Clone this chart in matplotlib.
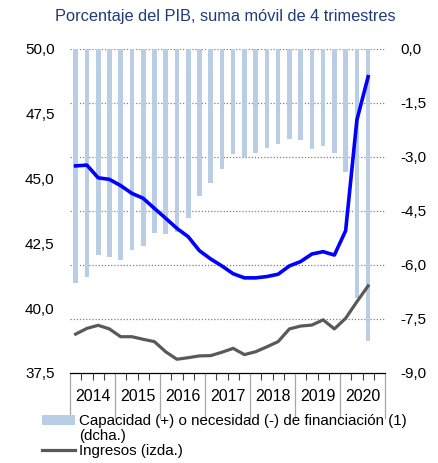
import matplotlib.pyplot as plt
from matplotlib.patches import Patch
from matplotlib.lines import Line2D

plt.rcParams['font.family'] = ['Liberation Sans', 'DejaVu Sans']

# Trimestres 2014T1 - 2020T3
years = ['2014', '2015', '2016', '2017', '2018', '2019', '2020']
capacidad = [-6.49, -6.32, -5.73, -5.79, -5.87, -5.57, -5.46, -5.12, -5.15, -5.08,
             -4.69, -4.08, -3.73, -3.34, -2.92, -2.99, -2.88, -2.74, -2.65, -2.49,
             -2.52, -2.77, -2.69, -2.88, -3.43, -6.93, -8.10]
gastos = [45.49, 45.52, 45.03, 44.97, 44.73, 44.43, 44.24, 43.85, 43.47, 43.08,
          42.76, 42.22, 41.90, 41.63, 41.33, 41.17, 41.17, 41.22, 41.31, 41.63,
          41.80, 42.09, 42.18, 42.05, 42.99, 47.26, 48.93]
ingresos = [39.00, 39.22, 39.34, 39.20, 38.90, 38.90, 38.80, 38.71, 38.32, 38.03,
            38.09, 38.16, 38.17, 38.30, 38.45, 38.21, 38.32, 38.51, 38.71, 39.20,
            39.31, 39.35, 39.55, 39.20, 39.61, 40.25, 40.86]
left_ticks = [37.5, 40.0, 42.5, 45.0, 47.5, 50.0]
right_ticks = [-9.0, -7.5, -6.0, -4.5, -3.0, -1.5, 0.0]

bar_color = '#B9CDE5'
x = list(range(len(capacidad)))

fig = plt.figure(figsize=(4.39, 4.63), dpi=100)
ax_r = fig.add_axes([0.1595, 0.1944, 0.7175, 0.6998])
ax = ax_r.twinx()
ax.set_zorder(ax_r.get_zorder() + 1)
ax.patch.set_visible(False)

# barras (eje derecho)
for v in right_ticks[1:]:
    ax_r.axhline(v, color='#808080', linestyle=(0, (1, 1.5)), linewidth=0.9, zorder=0)
ax_r.bar(x, capacidad, width=0.42, color=bar_color, zorder=2)
ax_r.set_ylim(-9, 0)
ax_r.set_yticks(right_ticks)
ax_r.set_yticklabels([f'{v:.1f}'.replace('.', ',') for v in right_ticks])
ax_r.yaxis.tick_right()

# lineas (eje izquierdo)
ax.plot(x, gastos, color='#0000FF', linewidth=2.6, solid_joinstyle='round')
ax.plot(x, ingresos, color='#595959', linewidth=2.3, solid_joinstyle='round')
ax.set_ylim(37.5, 50)
ax.set_yticks(left_ticks)
ax.set_yticklabels([f'{v:.1f}'.replace('.', ',') for v in left_ticks])
ax.yaxis.tick_left()

for a in (ax, ax_r):
    for s in ('top', 'left', 'right'):
        a.spines[s].set_visible(False)
    a.tick_params(axis='y', length=0, labelsize=11, pad=11)
ax.spines['bottom'].set_visible(False)
ax_r.spines['bottom'].set_color('#000000')
ax_r.spines['bottom'].set_linewidth(0.9)

ax_r.set_xlim(-0.5, 27.5)
ax.set_xlim(-0.5, 27.5)
ax.tick_params(axis='x', which='both', length=0, labelbottom=False)
ax_r.set_xticks([-0.5 + 4 * k for k in range(8)])
ax_r.set_xticks([-0.5 + k for k in range(29)], minor=True)
ax_r.tick_params(axis='x', which='major', length=33, color='#A6A6A6', width=0.9, labelbottom=False)
ax_r.tick_params(axis='x', which='minor', length=5, color='#404040', width=0.8)

for i, yr in enumerate(years):
    ax_r.text(1.5 + 4 * i, -0.074, yr, transform=ax_r.get_xaxis_transform(),
              ha='center', va='center', fontsize=11.5)

fig.text(0.513, 0.965, 'Porcentaje del PIB, suma móvil de 4 trimestres',
         ha='center', va='center', fontsize=11.8, color='#1F3C78')

handles = [Patch(facecolor=bar_color, edgecolor='none'),
           Line2D([], [], color='none'),
           Line2D([], [], color='#595959', linewidth=2.3)]
labels = ['Capacidad (+) o necesidad (-) de financiación (1)',
          '(dcha.)',
          'Ingresos (izda.)']
fig.legend(handles, labels, loc='upper left', bbox_to_anchor=(0.095, 0.105),
           frameon=False, fontsize=10.9, handlelength=2.2, handletextpad=0.25,
           labelspacing=0.05, borderpad=0, borderaxespad=0, handleheight=0.7)

fig.savefig('out.png', dpi=100)
